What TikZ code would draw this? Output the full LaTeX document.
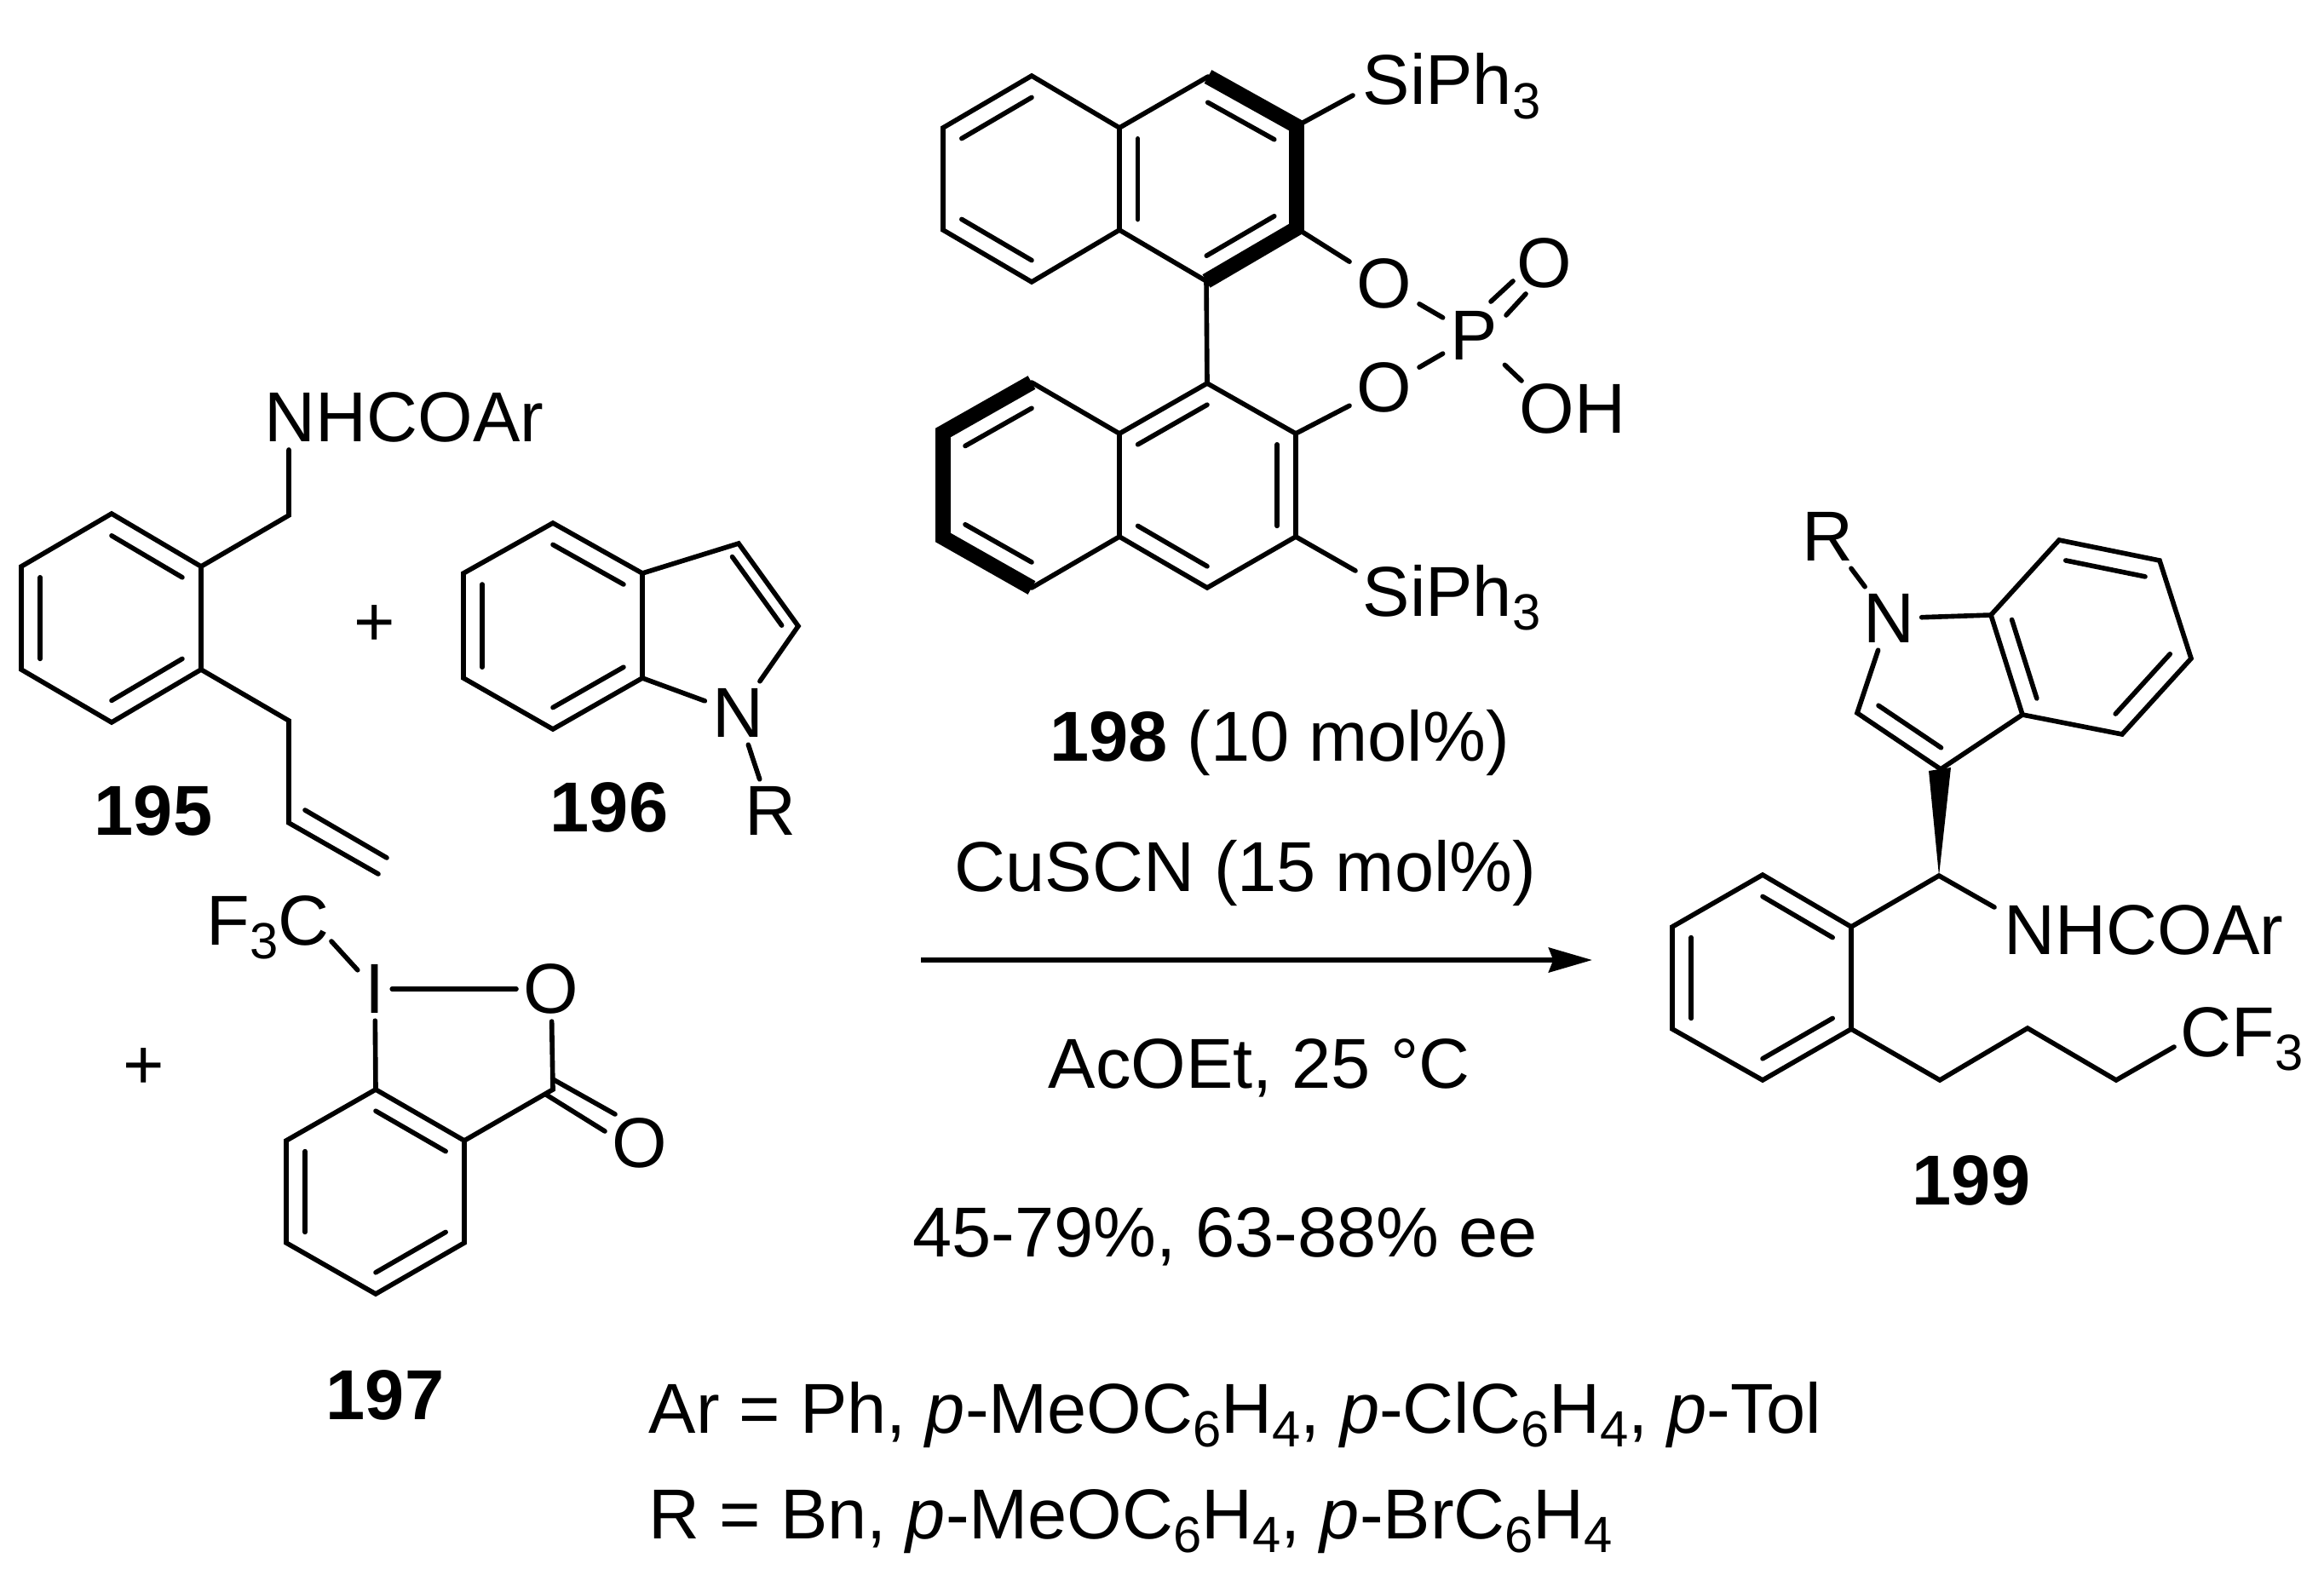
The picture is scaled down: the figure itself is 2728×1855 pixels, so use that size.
\documentclass[tikz,border=0pt]{standalone}
\usepackage{fontspec}
\setmainfont{Liberation Sans}
\usetikzlibrary{calc}
\usetikzlibrary{arrows.meta}

\newcommand{\chemsub}[1]{\raisebox{-4.8pt}{\fontsize{17}{17}\selectfont #1}}
\newcommand{\innerbond}[4][0.21]{\draw[bond] ($(#2)!#1!(#4)$) -- ($(#3)!#1!(#4)$);}

\tikzset{
  bond/.style={line width=1.6pt, line cap=round},
  boldbond/.style={line width=5.1pt, line join=miter},
  atom/.style={inner sep=0.08cm, font=\fontsize{23.6}{28}\selectfont},
  txt/.style={inner sep=0pt, font=\fontsize{23.6}{28}\selectfont}
}

\begin{document}
\begin{tikzpicture}[x=0.01cm, y=-0.01cm]
  \useasboundingbox (0,0) rectangle (2728,1855);

  % 195
  \draw[bond] (131,603) coordinate (a1) -- (236,665) coordinate (a2) -- (236,786) coordinate (a3)
  -- (131,848) coordinate (a4) -- (25,786) coordinate (a5) -- (25,665) coordinate (a6) -- cycle;
  \coordinate (ac) at (131,726);
  \innerbond{a1}{a2}{ac}
  \innerbond{a3}{a4}{ac}
  \innerbond{a5}{a6}{ac}
  \node[txt, anchor=base west] (nhcoar195) at (310,518) {NHCOAr};
  \coordinate (nh195) at (339,528);
  \draw[bond] (a2) -- (339,605) coordinate (ch195) -- (nh195);
  \draw[bond] (a3) -- (339,846) coordinate (al1) -- (339,966) coordinate (al2) -- (444,1026) coordinate (al3);
  \coordinate (al2b) at (358,951);
  \coordinate (al3b) at (454,1007);
  \draw[bond] (al2b) -- (al3b);
  \node[txt] (plusa) at (440,735) {+};
  \node[txt] (l195) at (180,952) {\textbf{195}};

  % 196
  \draw[bond] (649,614) coordinate (b1) -- (754,673) coordinate (b2) -- (754,796) coordinate (b3)
  -- (649,856) coordinate (b4) -- (544,796) coordinate (b5) -- (544,673) coordinate (b6) -- cycle;
  \coordinate (bc) at (649,735);
  \innerbond{b1}{b2}{bc}
  \innerbond{b3}{b4}{bc}
  \innerbond{b5}{b6}{bc}
  \node[atom] (n196) at (866,837) {N};
  \node[atom] (r196) at (904,952) {R};
  \coordinate (bd) at (823,730);
  \draw[bond] (b2) -- (867,638) coordinate (b7) -- (937,735) coordinate (b8) -- (n196);
  \draw[bond] (b3) -- (n196);
  \draw[bond] (n196) -- (r196);
  \innerbond[0.17]{b7}{b8}{bd}
  \node[txt] (l196) at (715,948) {\textbf{196}};

  % 197
  \draw[bond] (441,1279) coordinate (c1) -- (545,1339) coordinate (c2) -- (545,1459) coordinate (c3)
  -- (441,1519) coordinate (c4) -- (336,1459) coordinate (c5) -- (336,1339) coordinate (c6) -- cycle;
  \coordinate (cc) at (441,1399);
  \innerbond{c1}{c2}{cc}
  \innerbond{c3}{c4}{cc}
  \innerbond{c5}{c6}{cc}
  \node[atom] (i197) at (440,1161) {I};
  \node[atom] (o197) at (647,1161) {O};
  \node[atom] (oc197) at (751,1342) {O};
  \node[txt, anchor=base west] (f3c) at (242,1109) {F\chemsub{3}C};
  \coordinate (f3cend) at (389,1105);
  \draw[bond] (f3cend) -- (i197);
  \draw[bond] (i197) -- (o197);
  \draw[bond] (i197) -- (c1);
  \draw[bond] (c2) -- (649,1279) coordinate (c7) -- (o197);
  \coordinate (c7a) at (649,1267);
  \coordinate (c7b) at (641,1285);
  \coordinate (oa) at (722,1308);
  \coordinate (ob) at (710,1328);
  \draw[bond] (c7a) -- (oa);
  \draw[bond] (c7b) -- (ob);
  \node[txt] (plusb) at (169,1255) {+};
  \node[txt] (l197) at (452,1638) {\textbf{197}};

  % 198
  \draw[bond] (1314,150) coordinate (d1) -- (1211,89) coordinate (d2) -- (1107,150) coordinate (d3)
  -- (1107,270) coordinate (d4) -- (1211,331) coordinate (d5) -- (1314,270) coordinate (d6) -- cycle;
  \coordinate (dc) at (1211,210);
  \innerbond{d2}{d3}{dc}
  \innerbond{d4}{d5}{dc}
  \coordinate (ec) at (1417,211);
  \innerbond[0.21]{d6}{d1}{ec}
  \draw[boldbond] (1418,90) coordinate (e1) -- (1522,148) coordinate (e2) -- (1522,268) coordinate (e3) -- (1416,330) coordinate (e4);
  \draw[bond] (d1) -- (e1);
  \draw[bond] (d6) -- (e4);
  \innerbond[0.25]{e1}{e2}{ec}
  \innerbond[0.25]{e3}{e4}{ec}

  \draw[bond] (1314,509) coordinate (f1) -- (1417,450) coordinate (f2) -- (1521,509) coordinate (f3)
  -- (1521,630) coordinate (f4) -- (1417,690) coordinate (f5) -- (1314,630) coordinate (f6) -- cycle;
  \coordinate (fc) at (1417,570);
  \innerbond{f1}{f2}{fc}
  \innerbond{f3}{f4}{fc}
  \innerbond{f5}{f6}{fc}
  \draw[bond] (e4) -- (f2);
  \coordinate (gc) at (1211,570);
  \draw[boldbond] (1211,449) coordinate (g1) -- (1107,508) coordinate (g2) -- (1107,631) coordinate (g3) -- (1211,690) coordinate (g4);
  \draw[bond] (f1) -- (g1);
  \draw[bond] (f6) -- (g4);
  \innerbond[0.25]{g1}{g2}{gc}
  \innerbond[0.25]{g3}{g4}{gc}

  \node[atom] (oa198) at (1625,333) {O};
  \node[atom] (ob198) at (1625,455) {O};
  \node[atom] (p198) at (1730,394) {P};
  \node[atom] (oc198) at (1813,309) {O};
  \node[txt, anchor=base west] (oh198) at (1783,508) {OH};
  \node[txt, anchor=base west] (sia) at (1599,123) {SiPh\chemsub{3}};
  \node[txt, anchor=base west] (sib) at (1599,723) {SiPh\chemsub{3}};
  \coordinate (siaend) at (1588,112);
  \coordinate (sibend) at (1591,670);
  \coordinate (ohend) at (1786,447);
  \coordinate (pa) at (1750,354);
  \coordinate (pb) at (1768,370);
  \coordinate (oca) at (1776,330);
  \coordinate (ocb) at (1791,345);
  \draw[bond] (e2) -- (siaend);
  \draw[bond] (f4) -- (sibend);
  \draw[bond] (e3) -- (oa198);
  \draw[bond] (f3) -- (ob198);
  \draw[bond] (oa198) -- (p198);
  \draw[bond] (ob198) -- (p198);
  \draw[bond] (pa) -- (oca);
  \draw[bond] (pb) -- (ocb);
  \draw[bond] (p198) -- (ohend);

  % 199
  \draw[bond] (2069,1027) coordinate (h1) -- (2173,1088) coordinate (h2) -- (2173,1208) coordinate (h3)
  -- (2069,1268) coordinate (h4) -- (1963,1208) coordinate (h5) -- (1963,1088) coordinate (h6) -- cycle;
  \coordinate (hc) at (2069,1148);
  \innerbond{h1}{h2}{hc}
  \innerbond{h3}{h4}{hc}
  \innerbond{h5}{h6}{hc}
  \draw[bond] (h2) -- (2276,1028) coordinate (h7);
  \coordinate (nh199) at (2341,1065);
  \draw[bond] (h7) -- (nh199);
  \node[txt, anchor=base west] (nhcoar199) at (2352,1120) {NHCOAr};
  \coordinate (cf3end) at (2552,1229);
  \draw[bond] (h3) -- (2277,1268) coordinate (h8) -- (2380,1207) coordinate (h9) -- (2484,1268) coordinate (h10) -- (cf3end);
  \node[txt, anchor=base west] (cf3) at (2559,1240) {CF\chemsub{3}};

  \node[atom] (n199) at (2217,726) {N};
  \node[atom] (r199) at (2145,630) {R};
  \draw[bond] (r199) -- (n199);
  \draw[bond] (n199) -- (2337,722) coordinate (j1) -- (2417,634) coordinate (j2) -- (2535,658) coordinate (j3)
  -- (2572,773) coordinate (j4) -- (2491,862) coordinate (j5) -- (2374,839) coordinate (j6) -- (j1);
  \coordinate (jc) at (2454,748);
  \innerbond{j2}{j3}{jc}
  \innerbond{j4}{j5}{jc}
  \innerbond{j6}{j1}{jc}
  \draw[bond] (j6) -- (2278,903) coordinate (j7) -- (2180,837) coordinate (j8) -- (n199);
  \coordinate (kc) at (2280,802);
  \innerbond[0.25]{j7}{j8}{kc}
  \coordinate (wa) at (2264,905);
  \coordinate (wb) at (2290,901);
  \fill (wa) -- (wb) -- (h7) -- cycle;
  \node[txt] (l199) at (2314,1386) {\textbf{199}};

  % conditions
  \node[txt] (l198) at (1502,872) {\textbf{198} (10 mol\%)};
  \node[txt] (cu) at (1462,1025) {CuSCN (15 mol\%)};
  \coordinate (arrowstart) at (1081,1127);
  \coordinate (arrowend) at (1869,1127);
  \draw[line width=1.7pt, -{Stealth[length=14.5pt, width=8.2pt, inset=1.5pt]}] (arrowstart) -- (arrowend);
  \node[txt] (solvent) at (1478,1254) {AcOEt, 25 °C};
  \node[txt] (yield) at (1438,1452) {45-79\%, 63-88\% ee};
  \node[txt, anchor=base west] (arline) at (761,1682) {Ar = Ph, \textit{p}-MeOC\chemsub{6}H\chemsub{4}, \textit{p}-ClC\chemsub{6}H\chemsub{4}, \textit{p}-Tol};
  \node[txt, anchor=base west] (rline) at (761,1806) {R = Bn, \textit{p}-MeOC\chemsub{6}H\chemsub{4}, \textit{p}-BrC\chemsub{6}H\chemsub{4}};
\end{tikzpicture}
\end{document}
